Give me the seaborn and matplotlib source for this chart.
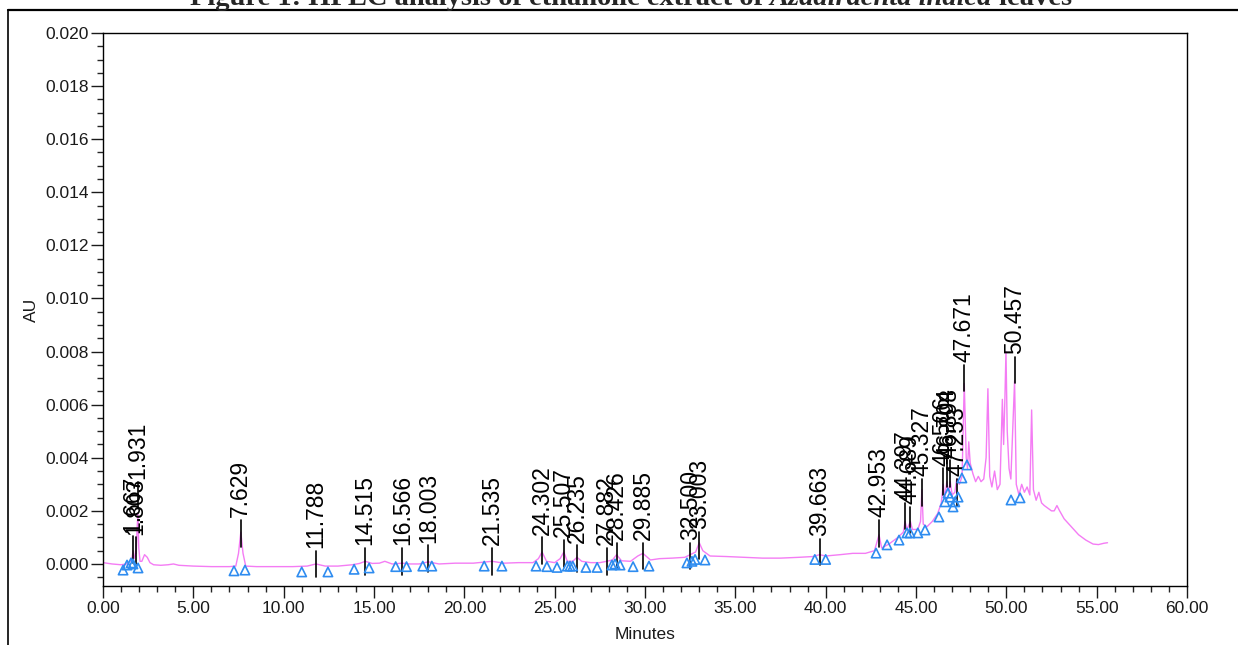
"""HPLC chromatogram of ethanolic leaf extract, redrawn with seaborn."""
import numpy as np
import pandas as pd
import matplotlib
matplotlib.use('Agg')
import matplotlib.pyplot as plt
from matplotlib.lines import Line2D
from matplotlib.ticker import MultipleLocator, FormatStrFormatter
import seaborn as sns

sns.set_theme(style="ticks")
plt.rcParams['font.family'] = ['Liberation Sans', 'DejaVu Sans']

# --- detector trace (minutes, AU) ---
trace_min = [0.0, 0.5, 1.0, 1.3, 1.5, 1.6, 1.667, 1.72, 1.78, 1.803, 1.84, 1.88, 1.931, 1.98,
             2.05, 2.15, 2.3, 2.45, 2.6, 2.8, 3.2, 3.6, 3.9, 4.2, 5.0, 6.0, 7.0, 7.35, 7.5,
             7.629, 7.75, 7.9, 8.5, 9.5, 10.5, 11.3, 11.788, 12.3, 13.0, 13.8, 14.2, 14.515,
             14.9, 15.3, 15.6, 16.0, 16.566, 17.0, 17.5, 18.003, 18.6, 19.5, 20.5, 21.535,
             22.2, 23.0, 23.8, 24.1, 24.302, 24.55, 25.0, 25.3, 25.507, 25.7, 26.0, 26.235,
             26.5, 27.0, 27.5, 27.882, 28.2, 28.426, 28.7, 29.2, 29.6, 29.885, 30.3, 30.8,
             31.5, 32.2, 32.5, 32.8, 33.003, 33.2, 33.6, 34.5, 35.5, 36.5, 37.5, 38.5, 39.3,
             39.663, 40.0, 40.8, 41.5, 42.2, 42.7, 42.953, 43.1, 43.5, 44.0, 44.3, 44.397,
             44.5, 44.689, 44.8, 45.1, 45.25, 45.327, 45.4, 45.6, 45.9, 46.2, 46.4, 46.506,
             46.6, 46.704, 46.8, 46.898, 47.0, 47.15, 47.253, 47.4, 47.55, 47.671, 47.78,
             47.85, 47.92, 48.0, 48.15, 48.3, 48.45, 48.6, 48.75, 48.88, 48.98, 49.08, 49.2,
             49.35, 49.5, 49.65, 49.78, 49.85, 49.92, 49.98, 50.05, 50.15, 50.25, 50.35,
             50.457, 50.55, 50.7, 50.85, 51.0, 51.15, 51.3, 51.4, 51.5, 51.65, 51.8, 51.95,
             52.1, 52.3, 52.5, 52.65, 52.8, 52.95, 53.2, 53.6, 54.0, 54.4, 54.8, 55.1, 55.4,
             55.6]
trace_au = [0.00005, 0.0, -0.00003, 0.0, 0.0001, 0.0002, 0.0005, 0.0002, 0.0003, 0.0005, 0.0004,
            0.0012, 0.0019, 0.0006, 0.0001, 0.0001, 0.00035, 0.00025, 0.00005, -0.00003,
            -0.00005, -0.00003, 0.0, -0.00005, -0.00008, -0.0001, -0.0001, -0.00008, 0.0004,
            0.0012, 0.0004, -0.00008, -0.0001, -0.0001, -0.0001, -0.00008, 0.0, -0.00008,
            -0.00008, -0.00003, 0.00002, 0.0001, 0.00002, 0.00003, 0.0001, 0.0, 0.00003, 0.0,
            0.0, 0.00008, 0.0, 0.00003, 0.00003, 0.0001, 0.00003, 0.00005, 0.00005, 0.0002,
            0.00045, 0.0001, 0.00005, 0.0002, 0.00045, 0.0001, 0.0001, 0.00025, 0.0001,
            0.00005, 0.00005, 0.0001, 0.00015, 0.00035, 0.00012, 0.0001, 0.0003, 0.0004,
            0.00015, 0.0002, 0.00022, 0.00025, 0.00035, 0.00045, 0.0008, 0.0005, 0.0003,
            0.00028, 0.00025, 0.00022, 0.00022, 0.00025, 0.00028, 0.00035, 0.0003, 0.00035,
            0.0004, 0.0004, 0.0005, 0.0011, 0.0006, 0.00075, 0.001, 0.0012, 0.0016, 0.0013,
            0.0016, 0.0013, 0.0013, 0.0016, 0.0028, 0.0015, 0.0014, 0.0016, 0.0019, 0.0023,
            0.0030, 0.0025, 0.0031, 0.0027, 0.0031, 0.0026, 0.0027, 0.0032, 0.0030, 0.0033,
            0.0068, 0.0040, 0.0036, 0.0046, 0.0038, 0.0034, 0.0031, 0.0033, 0.0031, 0.0032,
            0.0040, 0.0066, 0.0033, 0.0029, 0.0035, 0.0028, 0.0030, 0.0062, 0.0045, 0.0062,
            0.0080, 0.0050, 0.0036, 0.0032, 0.0050, 0.0069, 0.0030, 0.0026, 0.0030, 0.0027,
            0.0029, 0.0026, 0.0058, 0.0028, 0.0024, 0.0027, 0.0023, 0.0022, 0.0021, 0.0020,
            0.0020, 0.0022, 0.0020, 0.0017, 0.0014, 0.0011, 0.0009, 0.00075, 0.00073,
            0.00078, 0.0008]

# --- integration start/end markers (blue triangles) ---
mark_min = [1.11, 1.33, 1.55, 1.66, 1.94, 7.25, 7.86, 11.0, 12.45, 13.9, 14.73, 16.2, 16.8,
            17.7, 18.2, 21.1, 22.08, 23.97, 24.57, 25.13, 25.7, 25.85, 26.0, 26.73, 27.35,
            28.17, 28.34, 28.62, 29.34, 30.22, 32.32, 32.6, 32.77, 33.32, 39.4, 40.0,
            42.79, 43.4, 44.06, 44.5, 44.67, 45.1, 45.5, 46.27, 46.6, 46.77, 46.88, 47.05,
            47.15, 47.33, 47.54, 47.82, 50.26, 50.76]
mark_au = [-0.00023, -0.00004, 0.00004, 0.0, -0.00015, -0.00026, -0.00023, -0.0003, -0.0003,
           -0.0002, -0.00015, -0.0001, -0.0001, -0.00008, -0.00008, -0.00008, -0.00008,
           -0.00008, -0.0001, -0.00013, -0.00008, -0.00008, -0.00008, -0.00013, -0.00013,
           -0.00004, 0.0, -0.00004, -0.0001, -0.00008, 0.00004, 0.0001, 0.00017, 0.00015,
           0.00017, 0.00017, 0.00041, 0.00072, 0.0009, 0.00117, 0.00117, 0.00117, 0.00128,
           0.00177, 0.00234, 0.00267, 0.00252, 0.00215, 0.00234, 0.00252, 0.00324, 0.00373,
           0.00241, 0.00249]

# --- peak labels: retention time and height of the label tick top ---
peak_rt = [1.667, 1.803, 1.931, 7.629, 11.788, 14.515, 16.566, 18.003, 21.535, 24.302,
           25.507, 26.235, 27.882, 28.426, 29.885, 32.500, 33.003, 39.663, 42.953, 44.397,
           44.689, 45.327, 46.506, 46.704, 46.898, 47.253, 47.671, 50.457]
peak_top = [0.00105, 0.001, 0.0031, 0.00165, 0.0005, 0.0006, 0.0006, 0.0007, 0.0006, 0.001,
            0.0009, 0.0007, 0.0006, 0.0008, 0.0008, 0.0008, 0.0012, 0.00095, 0.00165, 0.0023,
            0.00215, 0.0032, 0.0036, 0.0039, 0.0039, 0.0032, 0.0075, 0.0078]

trace = pd.DataFrame({'Minutes': trace_min, 'AU': trace_au})
marks = pd.DataFrame({'Minutes': mark_min, 'AU': mark_au})

W, H = 1238, 645
fig = plt.figure(figsize=(W / 100, H / 100), dpi=100)
ax = fig.add_axes([103 / W, 1 - 586 / H, (1187 - 103) / W, (586 - 33) / H])

sns.lineplot(data=trace, x='Minutes', y='AU', color='#f47cf4', lw=1.0,
             estimator=None, sort=False, ax=ax)
sns.scatterplot(data=marks, x='Minutes', y='AU', marker='^', s=45,
                facecolors='none', edgecolor='#2e8cf0', linewidth=1.2, ax=ax, zorder=4)

for rt, top in zip(peak_rt, peak_top):
    ax.plot([rt, rt], [top - 0.001, top], color='black', lw=1.2, zorder=3)
    ax.annotate(f'{rt:.3f}', (rt, top), xytext=(0, 2), textcoords='offset points',
                rotation=90, ha='center', va='bottom', fontsize=16.5, color='black')

ax.set_xlim(0, 60)
ax.set_ylim(-0.00083, 0.020)
ax.xaxis.set_major_locator(MultipleLocator(5))
ax.xaxis.set_minor_locator(MultipleLocator(1))
ax.yaxis.set_major_locator(MultipleLocator(0.002))
ax.yaxis.set_minor_locator(MultipleLocator(0.0005))
ax.xaxis.set_major_formatter(FormatStrFormatter('%.2f'))
ax.yaxis.set_major_formatter(FormatStrFormatter('%.3f'))
ax.tick_params(which='major', direction='out', length=8.5, width=1.0, labelsize=12.5,
               colors='#1a1a1a', pad=2)
ax.tick_params(which='minor', direction='out', length=4.5, width=1.0)
ax.tick_params(axis='x', which='both', top=False)
ax.tick_params(axis='y', which='both', right=False)
for side in ax.spines.values():
    side.set_visible(True)
    side.set_color('black')
    side.set_linewidth(1.0)
ax.set_xlabel('Minutes', fontsize=12.5, labelpad=8, color='#1a1a1a')
ax.set_ylabel('AU', fontsize=12.5, labelpad=4, color='#1a1a1a')

# page frame lines around the chart
fig.add_artist(Line2D([8 / W, 1.0], [1 - 10 / H, 1 - 10 / H], transform=fig.transFigure,
                      color='black', lw=1.6))
fig.add_artist(Line2D([8 / W, 8 / W], [0.0, 1 - 10 / H], transform=fig.transFigure,
                      color='black', lw=1.2))

# figure caption, cut off at the top edge as in the source page
parts = [('Figure 1: HPLC analysis of ethanolic extract of ', 'normal'),
         ('Azadirachta indica', 'italic'),
         (' leaves', 'normal')]
renderer = fig.canvas.get_renderer()
texts = []
for s, style in parts:
    t = fig.text(0, 1 - 5 / H, s, fontsize=20.5, fontweight='bold', fontstyle=style,
                 family='Liberation Serif', va='baseline', ha='left')
    texts.append(t)
widths = [t.get_window_extent(renderer).width for t in texts]
x0 = 631 - sum(widths) / 2
for t, w in zip(texts, widths):
    t.set_x(x0 / W)
    x0 += w

fig.savefig('out.png', dpi=100)
plt.close()
